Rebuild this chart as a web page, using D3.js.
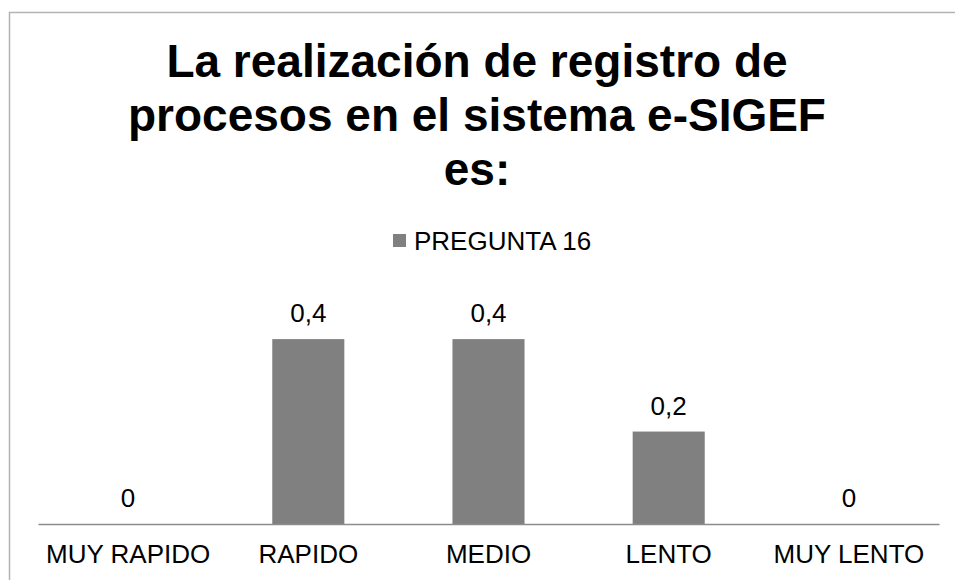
<!DOCTYPE html>
<html>
<head>
<meta charset="utf-8">
<script src="https://cdn.jsdelivr.net/npm/d3@7"></script>
<style>
  body { margin: 0; background: #fff; }
  text { font-family: "Liberation Sans", Arial, sans-serif; }
</style>
</head>
<body>
<script>
var categories = ['MUY RAPIDO', 'RAPIDO', 'MEDIO', 'LENTO', 'MUY LENTO'];
var values = [0, 0.4, 0.4, 0.2, 0];
var seriesName = 'PREGUNTA 16';
var titleLines = ['La realización de registro de', 'procesos en el sistema e-SIGEF', 'es:'];

var width = 955, height = 580;
var barColor = '#808080';

var svg = d3.select('body')
  .append('svg')
  .attr('width', width)
  .attr('height', height);

// chart area frame (only top/left visible)
svg.append('path')
  .attr('d', 'M9.5,' + height + 'V12.5H' + width)
  .attr('fill', 'none')
  .attr('stroke', '#b3b3b3')
  .attr('stroke-width', 1.5);

svg.append('g')
  .selectAll('text')
  .data(titleLines)
  .enter()
  .append('text')
  .attr('x', 477)
  .attr('y', (d, i) => 77 + i * 54)
  .attr('text-anchor', 'middle')
  .style('font-size', '46px')
  .style('font-weight', 'bold')
  .text(d => d);

var legend = svg.append('g');
legend.append('rect')
  .attr('x', 393)
  .attr('y', 234)
  .attr('width', 13)
  .attr('height', 13)
  .attr('fill', barColor);
legend.append('text')
  .attr('x', 414)
  .attr('y', 250)
  .style('font-size', '26px')
  .text(seriesName);

var x = d3.scaleBand()
  .domain(categories)
  .range([38, 939])
  .paddingInner(0.6)
  .paddingOuter(0.3);

var y = d3.scaleLinear()
  .domain([0, 0.45])
  .range([524, 316]);

svg.append('g')
  .selectAll('rect')
  .data(values)
  .enter()
  .append('rect')
  .attr('x', (d, i) => x(categories[i]))
  .attr('y', d => y(d))
  .attr('width', x.bandwidth())
  .attr('height', d => y(0) - y(d))
  .attr('fill', barColor);

svg.append('g')
  .selectAll('text')
  .data(values)
  .enter()
  .append('text')
  .attr('x', (d, i) => x(categories[i]) + x.bandwidth() / 2)
  .attr('y', d => y(d) - 17)
  .attr('text-anchor', 'middle')
  .style('font-size', '26px')
  .text(d => String(d).replace('.', ','));

var xAxis = svg.append('g')
  .attr('transform', 'translate(0,' + y(0) + ')')
  .call(d3.axisBottom(x).tickSize(0).tickPadding(21));
xAxis.select('.domain')
  .attr('stroke', '#8c8c8c')
  .attr('stroke-width', 1.5);
xAxis.selectAll('text')
  .style('font-size', '26px')
  .style('font-family', '"Liberation Sans", Arial, sans-serif')
  .attr('fill', '#000');
</script>
</body>
</html>
